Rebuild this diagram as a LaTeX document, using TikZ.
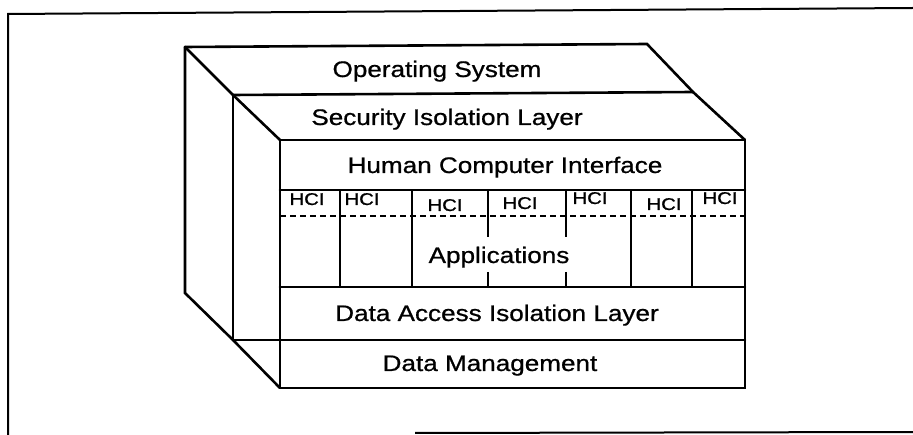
\documentclass[tikz,border=0pt]{standalone}
\usepackage{fontspec}
\setmainfont{Liberation Sans}
\newfontface\scanface[FakeBold=0.7]{Liberation Sans}
\begin{document}
\begin{tikzpicture}[x=1pt,y=-1pt,
  edge/.style={line width=2.6pt, line join=miter, line cap=round},
  frameline/.style={line width=2pt},
  thinline/.style={line width=1.2pt},
  divline/.style={line width=2.2pt},
  hcidash/.style={line width=1.4pt, dash pattern=on 6pt off 4pt},
  band/.style={inner sep=0pt, anchor=base, font=\scanface\fontsize{22.5}{26}\selectfont},
  hcilab/.style={inner sep=0pt, anchor=base, font=\scanface\fontsize{17}{19}\selectfont}]
\useasboundingbox (0,0) rectangle (913,435);
% outer frame
\coordinate (f1) at (8,14);
\coordinate (f2) at (913,8);
\coordinate (f3) at (8,435);
\coordinate (f4) at (415,433);
\coordinate (f5) at (913,432);
\draw[frameline] (f2) -- (f1) -- (f3);
\draw[frameline] (f4) -- (f5);
% box corners
\coordinate (A) at (185,47);
\coordinate (B) at (647,44);
\coordinate (C) at (233,95);
\coordinate (D) at (693,92);
\coordinate (E) at (280,140);
\coordinate (F) at (745,140);
\coordinate (G) at (745,388);
\coordinate (H) at (280,388);
\coordinate (A2) at (185,293);
\coordinate (C2) at (233,340);
\coordinate (H2) at (280,340);
\draw[edge] (A) -- (B) -- (D) -- (F);
\draw[edge] (A) -- (C) -- (E);
\draw[edge] (C) -- (D);
\draw[edge] (E) -- (F) -- (G) -- (H) -- cycle;
\draw[edge] (A) -- (A2) -- (C2) -- (H);
\draw[edge] (C) -- (C2);
\draw[thinline] (C2) -- (H2);
% horizontal bands in front
\coordinate (r1l) at (280,190); \coordinate (r1r) at (745,190);
\coordinate (r2l) at (280,287); \coordinate (r2r) at (745,287);
\coordinate (r3l) at (280,340); \coordinate (r3r) at (745,340);
\draw[edge] (r1l) -- (r1r);
\draw[edge] (r2l) -- (r2r);
\draw[edge] (r3l) -- (r3r);
% dashed HCI line
\coordinate (dl) at (280,216); \coordinate (dr) at (745,216);
\draw[hcidash] (dl) -- (dr);
% dividers
\foreach \x in {340,412,631,692}{
  \draw[divline] (\x,190) -- (\x,287);
}
\foreach \x in {488,566}{
  \draw[divline] (\x,190) -- (\x,237);
  \draw[divline] (\x,272) -- (\x,287);
}
% labels
\node[band] (os) at (437,77) {\scalebox{1.16}[1]{Operating System}};
\node[band] (sil) at (447,125) {\scalebox{1.16}[1]{Security Isolation Layer}};
\node[band] (hci) at (505,173) {\scalebox{1.16}[1]{Human Computer Interface}};
\node[band] (app) at (499,263) {\scalebox{1.16}[1]{Applications}};
\node[band] (dail) at (497,321) {\scalebox{1.16}[1]{Data Access Isolation Layer}};
\node[band] (dm) at (490,371) {\scalebox{1.16}[1]{Data Management}};
\node[hcilab] (h1) at (307,205) {\scalebox{1.2}[1]{HCI}};
\node[hcilab] (h2) at (362,205) {\scalebox{1.2}[1]{HCI}};
\node[hcilab] (h3) at (445,211) {\scalebox{1.2}[1]{HCI}};
\node[hcilab] (h4) at (520,209) {\scalebox{1.2}[1]{HCI}};
\node[hcilab] (h5) at (590,204) {\scalebox{1.2}[1]{HCI}};
\node[hcilab] (h6) at (664,210) {\scalebox{1.2}[1]{HCI}};
\node[hcilab] (h7) at (720,204) {\scalebox{1.2}[1]{HCI}};
\end{tikzpicture}
\end{document}
